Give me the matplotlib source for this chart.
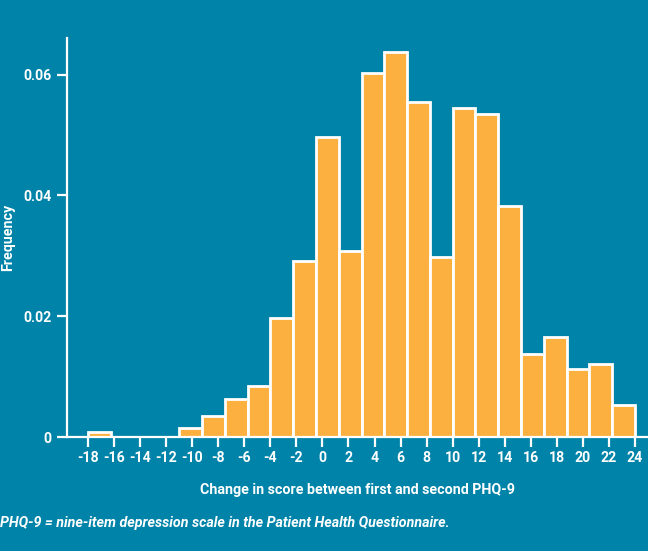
import numpy as np
import matplotlib
matplotlib.use("Agg")
import matplotlib.pyplot as plt

plt.rcParams['font.family'] = ['Roboto', 'DejaVu Sans']
plt.rcParams['axes.unicode_minus'] = False

# Data (density per bin; bins of width 1.75 starting at -18)
bin_start = -18.0
bin_width = 1.75
density = [0.00093, 0.0, 0.0, 0.0, 0.0016, 0.0036, 0.0064, 0.0084,
           0.0198, 0.0291, 0.0496, 0.0308, 0.0602, 0.0638, 0.0555, 0.0299,
           0.0544, 0.0535, 0.0383, 0.0138, 0.0166, 0.0113, 0.0121, 0.0054]
x_ticks = list(range(-18, 25, 2))
y_ticks = [0, 0.02, 0.04, 0.06]
y_tick_labels = ['0', '0.02', '0.04', '0.06']
x_label = 'Change in score between first and second PHQ-9'
y_label = 'Frequency'
footnote = 'PHQ-9 = nine-item depression scale in the Patient Health Questionnaire.'

BG = '#0083A8'
BAR = '#FBB040'
WHITE = 'white'

fig = plt.figure(figsize=(6.48, 5.51), dpi=100, facecolor=BG)
ax = fig.add_axes([0.1029, 0.2064, 0.8971, 0.7241])
ax.set_facecolor(BG)

edges = bin_start + bin_width * np.arange(len(density))
ax.bar(edges, density, width=bin_width, align='edge', color=BAR,
       edgecolor=WHITE, linewidth=2.0, zorder=2)

ax.set_xlim(-19.64, 25.0)
ax.set_ylim(0, 0.066)

for s in ['top', 'right']:
    ax.spines[s].set_visible(False)
for s in ['left', 'bottom']:
    ax.spines[s].set_color(WHITE)
    ax.spines[s].set_linewidth(1.6)
    ax.spines[s].set_zorder(3)

ax.set_xticks(x_ticks)
ax.set_xticklabels([str(t) for t in x_ticks])
ax.set_yticks(y_ticks)
ax.set_yticklabels(y_tick_labels)
ax.tick_params(axis='both', colors=WHITE, width=1.6, length=7,
               labelsize=10.2)
ax.tick_params(axis='x', pad=3.0)
ax.tick_params(axis='y', pad=4.0)
for lab in ax.get_xticklabels() + ax.get_yticklabels():
    lab.set_fontweight('bold')
    lab.set_color(WHITE)

ax.set_xlabel(x_label, color=WHITE, fontsize=10.3, fontweight='bold', labelpad=13)
ax.set_ylabel(y_label, color=WHITE, fontsize=10.3, fontweight='bold')
ax.yaxis.set_label_coords(-0.088, 0.5)

fig.text(0.0, 1 - 523 / 551, footnote, color=WHITE, fontsize=10.3,
         fontweight='bold', fontstyle='italic', ha='left', va='center')

fig.savefig('out.png', dpi=100, facecolor=BG)
